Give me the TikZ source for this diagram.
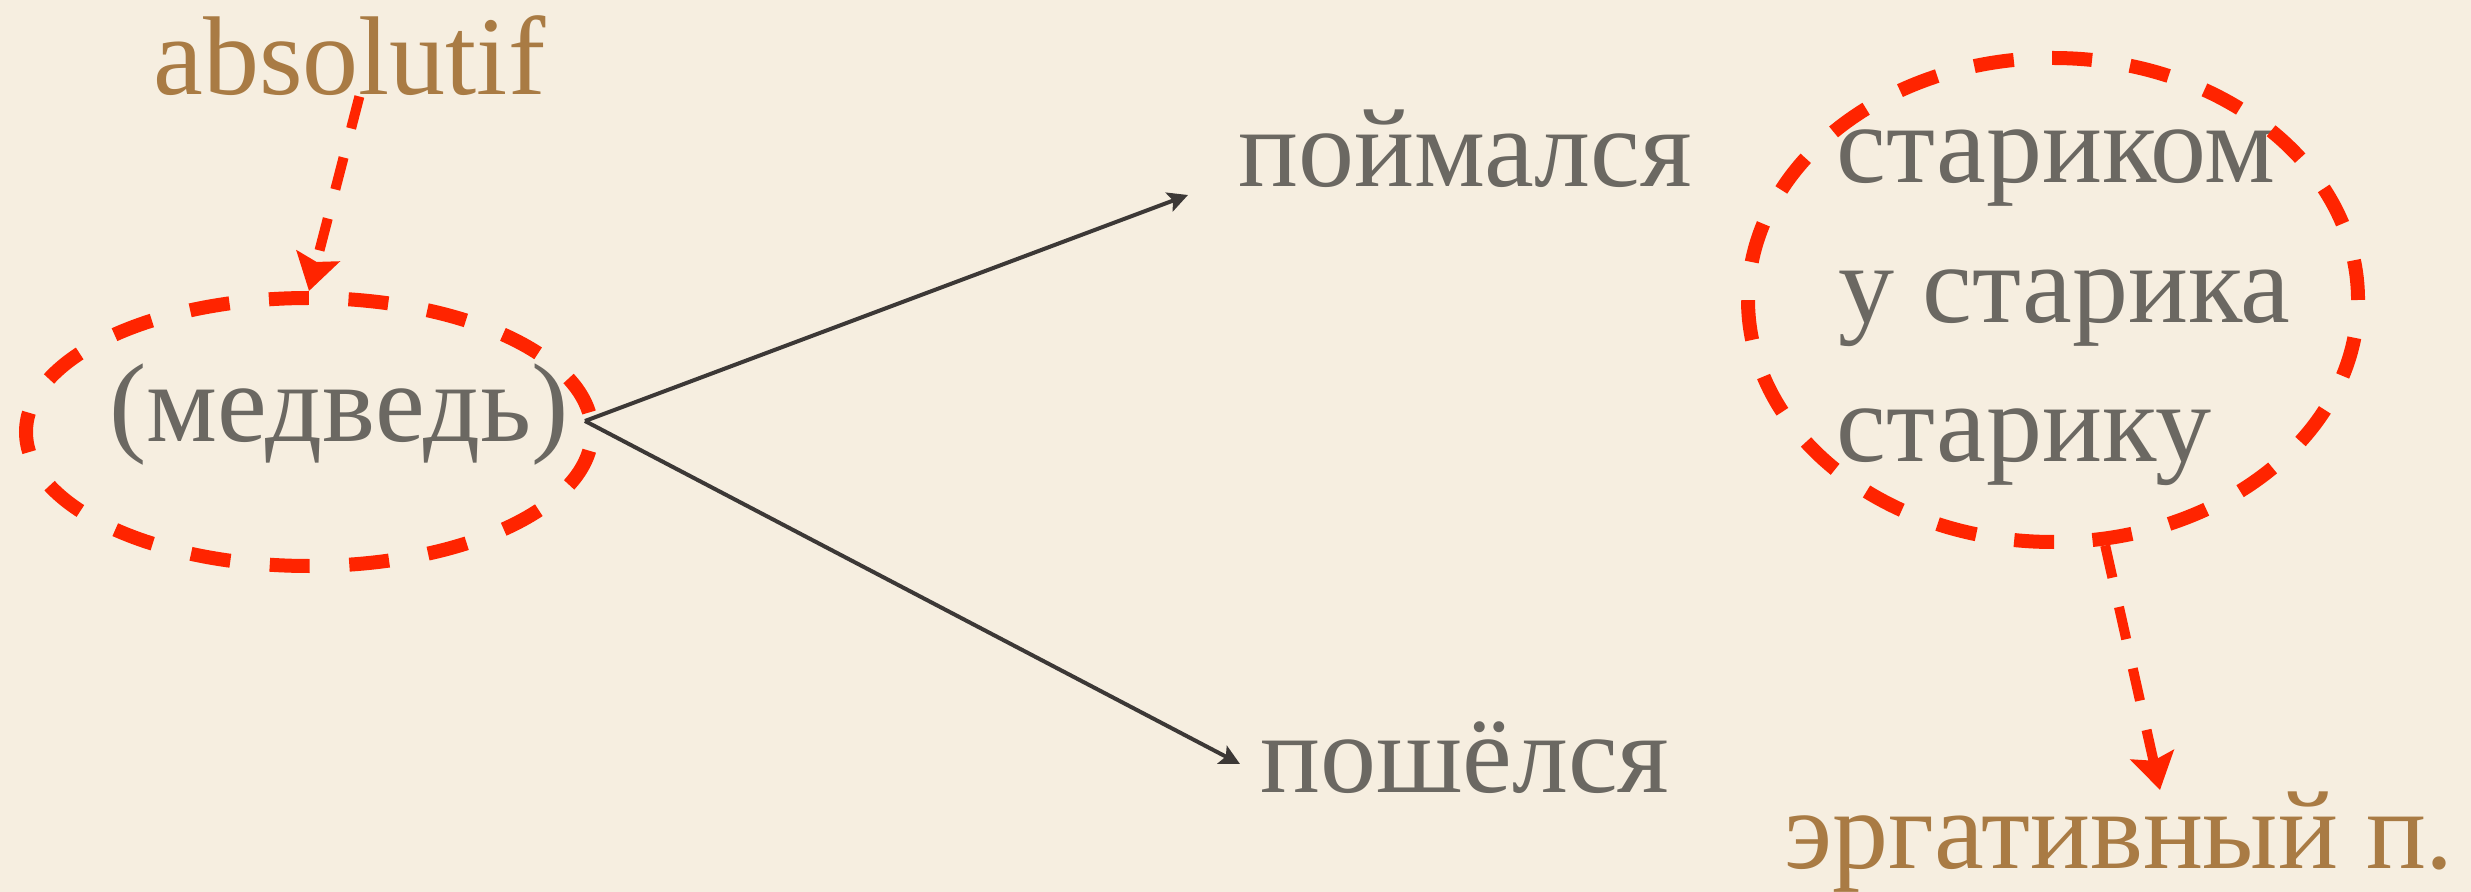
\documentclass[tikz,border=0pt]{standalone}
\usepackage{fontspec}
\setmainfont{Liberation Serif}
\usetikzlibrary{shapes.geometric,arrows.meta}
\definecolor{paper}{HTML}{F6EEE0}
\definecolor{txtgray}{HTML}{6B6862}
\definecolor{casebrown}{HTML}{A97B44}
\definecolor{markred}{HTML}{FF2400}
\definecolor{arrowgray}{HTML}{3C3836}
\begin{document}
\begin{tikzpicture}[x=0.5pt,y=-0.5pt,
  word/.style={inner sep=0pt, anchor=base west, text=txtgray, font=\fontsize{56pt}{67pt}\selectfont},
  casename/.style={word, text=casebrown},
  ring/.style={ellipse, draw=markred, line width=7pt, inner sep=0pt},
  redarrow/.style={draw=markred, line width=5pt, dash pattern=on 16.5pt off 15pt, -{Stealth[length=18pt,width=22pt,inset=3pt]}},
  blackarrow/.style={draw=arrowgray, line width=2pt, -{Stealth[length=10pt,width=10pt,inset=2pt]}}]
\fill[paper] (0,0) rectangle (2471,892);
% texts
\node[casename] (abs) at (153,95) {absolutif};
\node[word] (bearword) at (109,442) {(медведь)};
\node[word] (caught) at (1238,187) {поймался};
\node[word] (went) at (1260,792) {пошёлся};
\node[word] (oldinst) at (1836,183) {стариком};
\node[word] (oldgen) at (1838,323) {у старика};
\node[word] (olddat) at (1836,462) {старику};
\node[casename] (erg) at (1784,868) {эргативный п.};
% ellipses
\node[ring, dash pattern=on 20pt off 19.8pt, dash phase=29.9pt, minimum width=283pt, minimum height=134pt] (bear) at (309,432) {};
\node[ring, dash pattern=on 20pt off 19.2pt, minimum width=305pt, minimum height=242pt] (obl) at (2053,300) {};
% connectors
\coordinate (fork) at (585,421);
\coordinate (upTip) at (1188,195);
\coordinate (downTip) at (1240,764);
\coordinate (ergTip) at (2160,790);
\draw[blackarrow] (fork) -- (upTip);
\draw[blackarrow] (fork) -- (downTip);
\draw[redarrow] ([xshift=5pt]abs.south) -- (bear.north);
\draw[redarrow] (obl.282) -- (ergTip);
\end{tikzpicture}
\end{document}
